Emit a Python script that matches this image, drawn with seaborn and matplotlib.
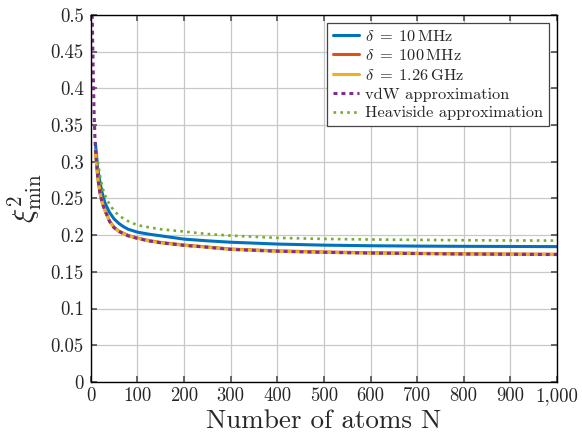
import pandas as pd
import matplotlib
matplotlib.use("Agg")
import matplotlib.pyplot as plt
import seaborn as sns

# values
n_atoms = [10, 15, 20, 25, 30, 40, 50, 60, 70, 80, 100, 125, 150, 200, 250,
           300, 400, 500, 600, 700, 800, 900, 1000]
xi_10mhz = [0.325, 0.290, 0.271, 0.256, 0.2445, 0.231, 0.222, 0.216, 0.2115, 0.208,
            0.204, 0.2012, 0.199, 0.1945, 0.1922, 0.1903, 0.1878, 0.1863, 0.1855,
            0.1850, 0.1847, 0.1845, 0.1843]
xi_100mhz = [0.3155, 0.2785, 0.2565, 0.2435, 0.2345, 0.2195, 0.2105, 0.2055, 0.2025,
             0.1995, 0.196, 0.1925, 0.190, 0.1865, 0.1838, 0.1810, 0.1785, 0.1770,
             0.1760, 0.1752, 0.1746, 0.1742, 0.1739]
xi_126ghz = [0.315, 0.278, 0.256, 0.243, 0.234, 0.219, 0.210, 0.205, 0.202, 0.199,
             0.1955, 0.192, 0.1895, 0.186, 0.1835, 0.1805, 0.178, 0.1765, 0.1755,
             0.1748, 0.1742, 0.1738, 0.1735]
n_vdw = [3, 5, 7, 9, 10, 15, 20, 25, 30, 40, 50, 60, 70, 80, 100, 125, 150, 200,
         250, 300, 400, 500, 600, 700, 800, 900, 1000]
xi_vdw = [0.5, 0.43, 0.37, 0.33, 0.318, 0.278, 0.256, 0.243, 0.234, 0.219, 0.210,
          0.205, 0.202, 0.199, 0.1955, 0.192, 0.1895, 0.186, 0.1835, 0.1805, 0.178,
          0.1765, 0.1755, 0.1748, 0.1742, 0.1738, 0.1735]
n_heav = [15, 20, 25, 30, 40, 50, 60, 70, 80, 100, 125, 150, 200, 250, 300, 400,
          500, 600, 700, 800, 900, 1000]
xi_heav = [0.300, 0.280, 0.265, 0.2548, 0.242, 0.233, 0.227, 0.2225, 0.219, 0.2135,
           0.2105, 0.208, 0.2048, 0.2015, 0.1993, 0.1962, 0.1948, 0.194, 0.1935,
           0.193, 0.1927, 0.1925]

x_ticks = list(range(0, 1001, 100))
x_tick_labels = ["0", "100", "200", "300", "400", "500", "600", "700", "800", "900", "1,000"]
y_ticks = [i * 0.05 for i in range(11)]
y_tick_labels = ["0", "0.05", "0.1", "0.15", "0.2", "0.25", "0.3", "0.35", "0.4", "0.45", "0.5"]

sns.set_theme(style="whitegrid")
plt.rcParams["font.family"] = "serif"
plt.rcParams["font.serif"] = ["cmr10", "DejaVu Serif"]
plt.rcParams["mathtext.fontset"] = "cm"
plt.rcParams["axes.unicode_minus"] = False
plt.rcParams["axes.formatter.use_mathtext"] = True

fig, ax = plt.subplots(figsize=(5.82, 4.36), dpi=100)
fig.subplots_adjust(left=0.156, right=0.957, top=0.966, bottom=0.124)

lw = 2.2
sns.lineplot(x=n_atoms, y=xi_10mhz, ax=ax, color="#0072BD", lw=lw,
             label=r"$\delta\;=\;10\,\mathrm{MHz}$")
sns.lineplot(x=n_atoms, y=xi_100mhz, ax=ax, color="#D95319", lw=lw,
             label=r"$\delta\;=\;100\,\mathrm{MHz}$")
sns.lineplot(x=n_atoms, y=xi_126ghz, ax=ax, color="#EDB120", lw=lw,
             label=r"$\delta\;=\;1.26\,\mathrm{GHz}$")
sns.lineplot(x=n_vdw, y=xi_vdw, ax=ax, color="#7E2F8E", lw=lw,
             dashes=False, label="vdW approximation")
sns.lineplot(x=n_heav, y=xi_heav, ax=ax, color="#77AC30", lw=1.9,
             dashes=False, label="Heaviside approximation")
ax.lines[3].set_dashes((1.3, 1.3))
ax.lines[4].set_dashes((1.0, 1.6))

ax.set_xlim(0, 1000)
ax.set_ylim(0, 0.5)
ax.set_xticks(x_ticks)
ax.set_xticklabels(x_tick_labels)
ax.set_yticks(y_ticks)
ax.set_yticklabels(y_tick_labels)
ax.tick_params(labelsize=13.5, direction="in", length=4, color="#555555",
               left=True, bottom=True, right=True, top=True)
ax.tick_params(axis="y", pad=5)
ax.tick_params(axis="x", pad=4)
ax.grid(True, color="#c8c8c8", lw=0.9)
for s in ax.spines.values():
    s.set_color("black")
    s.set_linewidth(1.0)

ax.set_xlabel("Number of atoms N", fontsize=19.5, labelpad=3)
ax.set_ylabel(r"$\xi^2_{\min}$", fontsize=21.5, labelpad=5)

leg = ax.legend(loc="upper right", fontsize=11.8, frameon=True, fancybox=False,
                framealpha=1, edgecolor="#444444", handlelength=1.6,
                handletextpad=0.35, borderpad=0.35, labelspacing=0.27,
                borderaxespad=0.5)
leg.get_frame().set_linewidth(0.9)

fig.savefig("out.png", dpi=100)
